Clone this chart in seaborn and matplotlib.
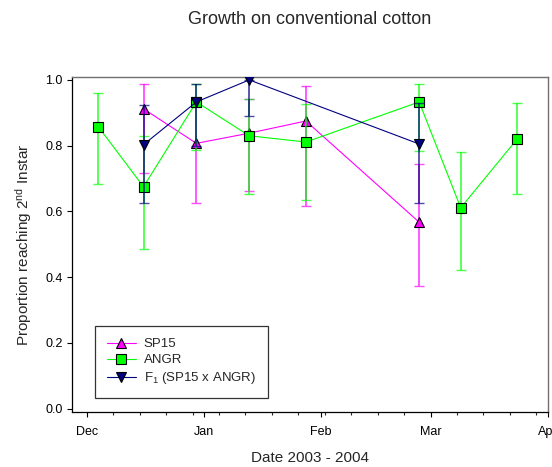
import matplotlib
matplotlib.use("Agg")
import matplotlib.pyplot as plt
import matplotlib.dates as mdates
from matplotlib.ticker import FixedLocator, FormatStrFormatter
import seaborn as sns
import pandas as pd

# ---------------- data ----------------
sp15_dates = ["2003-12-16", "2003-12-30", "2004-01-13", "2004-01-28", "2004-02-27"]
sp15_vals = [0.912, 0.807, 0.838, 0.875, 0.567]
sp15_lo = [0.718, 0.625, 0.661, 0.617, 0.374]
sp15_hi = [0.987, 0.930, 0.942, 0.983, 0.743]

angr_dates = ["2003-12-04", "2003-12-16", "2003-12-30", "2004-01-13",
              "2004-01-28", "2004-02-27", "2004-03-09", "2004-03-24"]
angr_vals = [0.858, 0.675, 0.933, 0.830, 0.811, 0.933, 0.611, 0.821]
angr_lo = [0.683, 0.486, 0.787, 0.653, 0.635, 0.785, 0.421, 0.653]
angr_hi = [0.960, 0.830, 0.989, 0.943, 0.927, 0.989, 0.780, 0.930]

f1_dates = ["2003-12-16", "2003-12-30", "2004-01-13", "2004-02-27"]
f1_vals = [0.803, 0.933, 1.000, 0.805]
f1_lo = [0.624, 0.800, 0.889, 0.625]
f1_hi = [0.924, 0.989, 1.000, 0.930]

series_names = ["SP15", "ANGR", "F1"]
legend_labels = ["SP15", "ANGR", "F$_1$ (SP15 x ANGR)"]
y_ticks = [0.0, 0.2, 0.4, 0.6, 0.8, 1.0]

title = "Growth on conventional cotton"
xlabel = "Date 2003 - 2004"
ylabel = "Proportion reaching 2$^{\\mathrm{nd}}$ Instar"

# ---------------- style ----------------
sns.set_style("ticks")
plt.rcParams["font.family"] = ["Liberation Sans", "DejaVu Sans"]
plt.rcParams["mathtext.fontset"] = "custom"
plt.rcParams["mathtext.rm"] = "Liberation Sans"
plt.rcParams["mathtext.it"] = "Liberation Sans:italic"
plt.rcParams["mathtext.bf"] = "Liberation Sans:bold"

line_colors = {"SP15": "#ff00ff", "ANGR": "#00ff00", "F1": "#000080"}
markers = {"SP15": "^", "ANGR": "s", "F1": "v"}

frames = []
for name, d, v in [("SP15", sp15_dates, sp15_vals),
                   ("ANGR", angr_dates, angr_vals),
                   ("F1", f1_dates, f1_vals)]:
    frames.append(pd.DataFrame({"date": pd.to_datetime(d), "value": v, "series": name}))
df = pd.concat(frames, ignore_index=True)

fig = plt.figure(figsize=(5.52, 4.67), dpi=100)
ax = fig.add_axes([0.130, 0.1184, 0.862, 0.7161])

errs = {"SP15": (sp15_dates, sp15_vals, sp15_lo, sp15_hi),
        "ANGR": (angr_dates, angr_vals, angr_lo, angr_hi),
        "F1": (f1_dates, f1_vals, f1_lo, f1_hi)}
zorders = {"SP15": 2, "ANGR": 3, "F1": 4}

for name in series_names:
    d, v, lo, hi = errs[name]
    sub = df[df["series"] == name]
    ax.errorbar(pd.to_datetime(d), v,
                yerr=[[vi - l for vi, l in zip(v, lo)], [h - vi for vi, h in zip(v, hi)]],
                fmt="none", ecolor=line_colors[name], alpha=0.7,
                elinewidth=1.3, capsize=3.3, capthick=1.0, zorder=zorders[name])
    sns.lineplot(data=sub, x="date", y="value", ax=ax, color=line_colors[name],
                 marker=markers[name], markersize=6.5, markeredgecolor="black",
                 markeredgewidth=0.8, linewidth=0.8, label=name, zorder=zorders[name] + 0.5,
                 errorbar=None)

# axes limits
ax.set_xlim(pd.Timestamp("2003-11-27"), pd.Timestamp("2004-04-01"))
ax.set_ylim(-0.0095, 1.008)

ax.xaxis.set_major_locator(mdates.MonthLocator())
ax.xaxis.set_major_formatter(mdates.DateFormatter("%b"))
minor = pd.date_range("2003-12-01", "2004-04-01", freq="7D")
ax.xaxis.set_minor_locator(FixedLocator(mdates.date2num(minor)))
ax.yaxis.set_major_locator(FixedLocator(y_ticks))
ax.yaxis.set_major_formatter(FormatStrFormatter("%.1f"))

ax.tick_params(axis="both", which="major", direction="out", length=3.5, width=0.8,
               labelsize=9, colors="black", pad=3)
ax.tick_params(axis="x", which="minor", direction="out", length=2.5, width=0.8)
ax.tick_params(axis="x", which="major", pad=7)

for s in ["left", "bottom"]:
    ax.spines[s].set_color("black")
    ax.spines[s].set_linewidth(0.9)
for s in ["top", "right"]:
    ax.spines[s].set_visible(True)
    ax.spines[s].set_color("#707070")
    ax.spines[s].set_linewidth(1.0)

ax.set_xlabel(xlabel, fontsize=11, labelpad=9)
ax.set_ylabel(ylabel, fontsize=11, labelpad=8)
fig.text(0.5605, 1 - 20 / 467, title, fontsize=13, ha="center", va="center")

handles, _ = ax.get_legend_handles_labels()
leg = ax.legend(handles[:3], legend_labels, loc="lower left",
                bbox_to_anchor=(0.049, 0.040), borderaxespad=0,
                fontsize=9.5, frameon=True, fancybox=False, edgecolor="black",
                handlelength=2.2, handletextpad=0.6, labelspacing=0.3,
                borderpad=0.9)
leg.get_frame().set_linewidth(0.9)

fig.savefig("out.png", dpi=100)
